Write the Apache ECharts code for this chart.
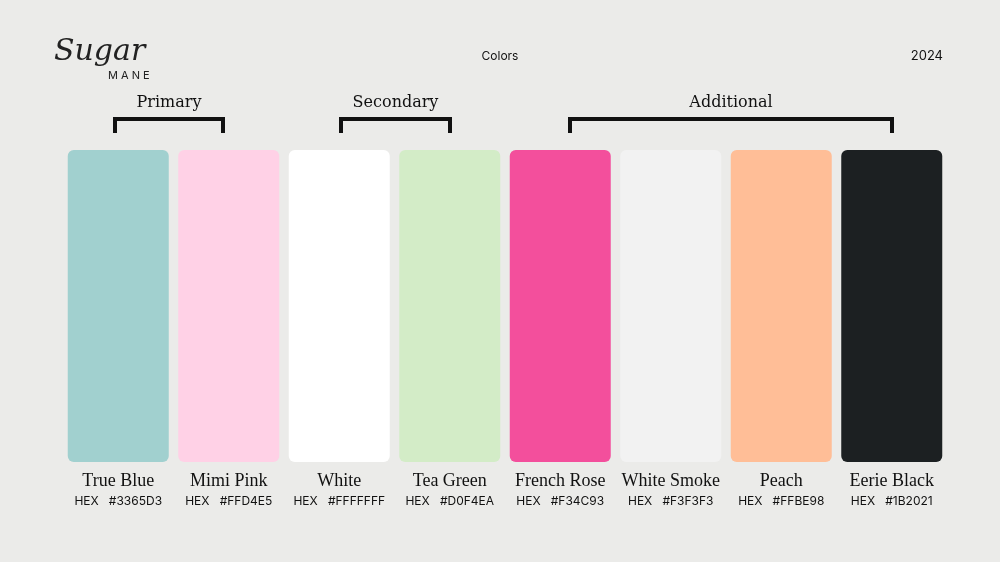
<!DOCTYPE html>
<html><head><meta charset="utf-8">
<script src="https://cdn.jsdelivr.net/npm/echarts@6/dist/echarts.min.js"></script>
<style>html,body{margin:0;background:#ebebe9}#c{width:1000px;height:562px}</style>
</head><body><div id="c"></div>
<script>
const names=['True Blue','Mimi Pink','White','Tea Green','French Rose','White Smoke','Peach','Eerie Black'];
const hexes=['#3365D3','#FFD4E5','#FFFFFFF','#D0F4EA','#F34C93','#F3F3F3','#FFBE98','#1B2021'];
const swatch=['#a1d0cf','#ffd1e6','#ffffff','#d3ecc7','#f34f9c','#f2f2f2','#ffbe97','#1c2022'];
const heights=[1,1,1,1,1,1,1,1];
const groups=[{t:'Primary',a:115,b:223},{t:'Secondary',a:341,b:450},{t:'Additional',a:570,b:892}];
const ch=echarts.init(document.getElementById('c'));
const g=[];
groups.forEach(o=>{
 g.push({type:'polyline',shape:{points:[[o.a,133],[o.a,119],[o.b,119],[o.b,133]]},style:{stroke:'#111',lineWidth:4,fill:null}});
 g.push({type:'text',x:(o.a+o.b)/2,y:103,style:{text:o.t,font:'16px "DejaVu Serif"',fill:'#111',align:'center',verticalAlign:'middle'}});
});
g.push({type:'text',x:500,y:56,style:{text:'Colors',font:'12px Inter',fill:'#111',align:'center',verticalAlign:'middle'}});
g.push({type:'text',x:943,y:56,style:{text:'2024',font:'13px Inter',fill:'#111',align:'right',verticalAlign:'middle'}});
g.push({type:'text',x:54,y:52,style:{text:'Sugar',font:'italic 30px "DejaVu Serif"',fill:'#222',verticalAlign:'middle'}});
g.push({type:'text',x:108,y:76,style:{text:'M A N E',font:'11px Inter',fill:'#222',verticalAlign:'middle'}});
ch.setOption({
 backgroundColor:'#ebebe9',animation:false,
 grid:{left:63,right:53,top:150,bottom:100},
 xAxis:{type:'category',data:names,axisLine:{show:false},axisTick:{show:false},
  axisLabel:{margin:8,interval:0,formatter:(v,i)=>'{n|'+v+'}\n{h|HEX   '+hexes[i]+'}',
   rich:{n:{fontSize:18,fontFamily:'Liberation Serif',color:'#111',lineHeight:22},h:{fontSize:12,fontFamily:'Inter',color:'#111',lineHeight:19}}}},
 yAxis:{type:'value',min:0,max:1,show:false},
 series:[{type:'bar',barWidth:101,data:heights.map((v,i)=>({value:v,itemStyle:{color:swatch[i],borderRadius:6}}))}],
 graphic:g
});
</script></body></html>
